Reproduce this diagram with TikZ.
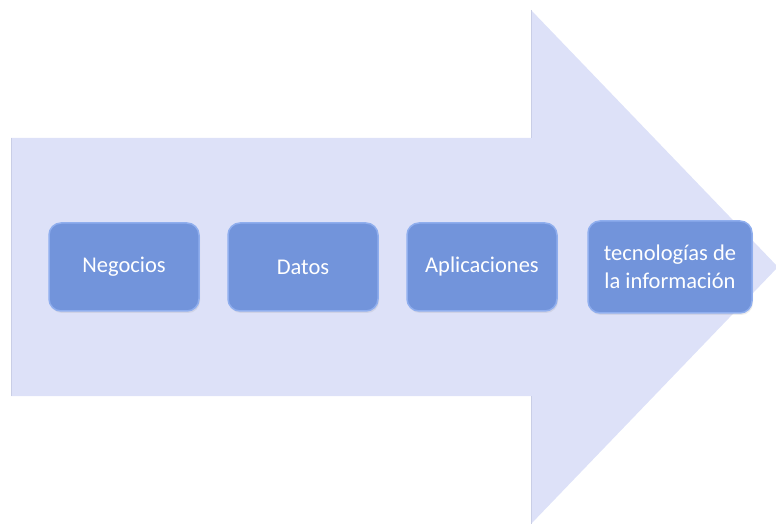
\documentclass[tikz,border=0pt]{standalone}
\usepackage{fontspec}
\setmainfont{Carlito}
\usepackage{tikz}
\usetikzlibrary{shadows}

\definecolor{arrowfill}{HTML}{DDE1F8}
\definecolor{arrowedge}{HTML}{C9CEE6}
\definecolor{boxfill}{HTML}{7294DB}
\definecolor{boxedge}{HTML}{8FAEEE}

\begin{document}
\begin{tikzpicture}[x=1pt, y=1pt]

	\tikzstyle{layer_box} = [rectangle, rounded corners=12pt, fill=boxfill, draw=boxedge, line width=1.5pt, text=white, align=center, font=\fontsize{22.5}{28}\selectfont, minimum width=150pt, minimum height=88pt, inner sep=2pt, drop shadow={opacity=0.15, shadow xshift=1pt, shadow yshift=-2pt}]

	\useasboundingbox (0,0) rectangle (776,525);

%------------------------------------------------------------
	\fill[arrowfill] (11,387) -- (531,387) -- (531,515) -- (778,258) -- (531,1) -- (531,129) -- (11,129) -- cycle;
	\draw[arrowedge, line width=1pt] (11,387) -- (11,129);
	\draw[arrowedge, line width=1pt] (531,515) -- (531,387);
	\draw[arrowedge, line width=1pt] (531,129) -- (531,1);

%------------------------------------------------------------
	\node[layer_box] (negocios) at (124,258) {Negocios};
	\node[layer_box] (datos) at (303,258) {Datos};
	\node[layer_box] (aplicaciones) at (482,258) {Aplicaciones};
	\node[layer_box, minimum width=164pt, minimum height=92pt] (tecnologias) at (670,258) {tecnologías de\\la información};

\end{tikzpicture}
\end{document}
